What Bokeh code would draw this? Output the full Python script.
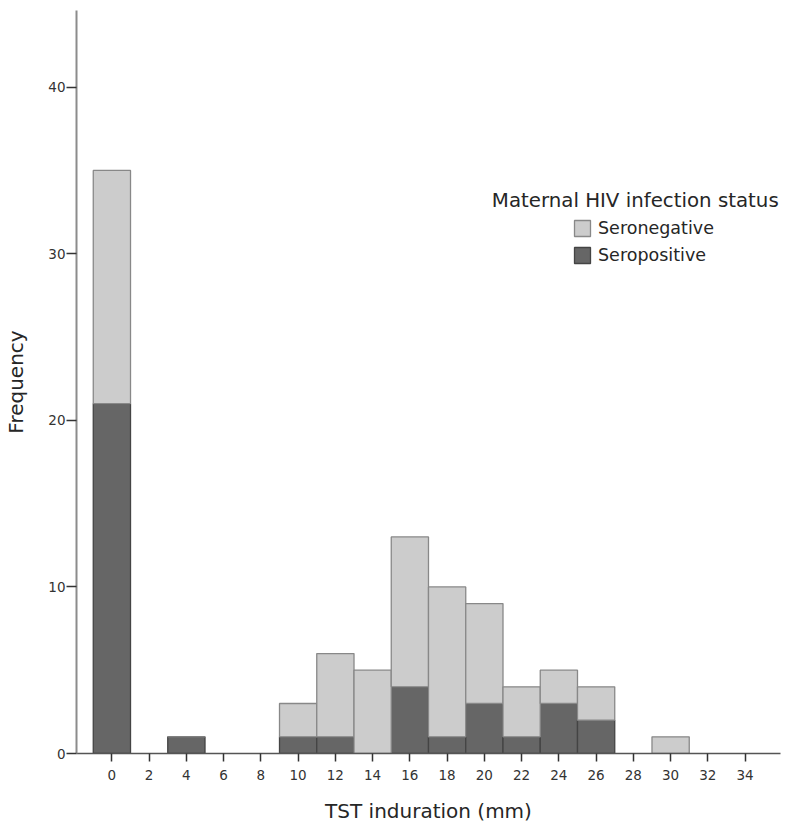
from bokeh.plotting import figure
from bokeh.models import Range1d, FixedTicker, Legend, LegendItem, Label, ColumnDataSource
from bokeh.embed import file_html
from bokeh.resources import INLINE

# TST induration bins (mm, bin centres, 2 mm wide)
bins = [0, 4, 10, 12, 14, 16, 18, 20, 22, 24, 26, 30]
# total children per bin and those with seropositive mothers
totals = [35, 1, 3, 6, 5, 13, 10, 9, 4, 5, 4, 1]
seropositive = [21, 1, 1, 1, 0, 4, 1, 3, 1, 3, 2, 0]
seronegative = [t - s for t, s in zip(totals, seropositive)]
x_ticks = list(range(0, 35, 2))
y_ticks = [0, 10, 20, 30, 40]

FONT = "DejaVu Sans"
LIGHT = "#cccccc"
DARK = "#666666"
TEXT = "#262626"

src = ColumnDataSource(dict(x=bins, pos=seropositive, neg=seronegative, tot=totals))

p = figure(width=804, height=825, output_backend="svg", toolbar_location=None,
           x_range=Range1d(-1.9, 35.9), y_range=Range1d(0, 44.6),
           min_border_left=76, min_border_right=24, min_border_top=10, min_border_bottom=71)
p.outline_line_color = None
p.grid.visible = False
p.background_fill_color = "white"
p.border_fill_color = "white"

# stacked bars: seropositive at the bottom, seronegative on top
pos_r = p.vbar(x="x", width=2, bottom=0, top="pos", source=src,
               fill_color=DARK, line_color="#444444", line_width=1.3)
neg_r = p.vbar(x="x", width=2, bottom="pos", top="tot", source=src,
               fill_color=LIGHT, line_color="#888888", line_width=1.3)

xa = p.xaxis[0]
xa.ticker = FixedTicker(ticks=x_ticks)
xa.axis_label = "TST induration (mm)"
xa.axis_label_text_font = FONT
xa.axis_label_text_font_size = "20px"
xa.axis_label_text_font_style = "normal"
xa.axis_label_text_color = TEXT
xa.axis_label_standoff = 16
xa.major_label_text_font = FONT
xa.major_label_text_font_size = "13.5px"
xa.major_label_text_color = "#333333"
xa.major_label_standoff = 8
xa.major_tick_in = 0
xa.major_tick_out = 8
xa.major_tick_line_color = "#333333"
xa.major_tick_line_width = 1.5
xa.minor_tick_line_color = None
xa.axis_line_color = "#555555"
xa.axis_line_width = 1.3

ya = p.yaxis[0]
ya.ticker = FixedTicker(ticks=y_ticks)
ya.axis_label = "Frequency"
ya.axis_label_text_font = FONT
ya.axis_label_text_font_size = "20px"
ya.axis_label_text_font_style = "normal"
ya.axis_label_text_color = TEXT
ya.axis_label_standoff = 17
ya.major_label_text_font = FONT
ya.major_label_text_font_size = "13.5px"
ya.major_label_text_color = "#333333"
ya.major_label_standoff = 1
ya.major_tick_in = 0
ya.major_tick_out = 10
ya.major_tick_line_color = "#333333"
ya.major_tick_line_width = 1.5
ya.minor_tick_line_color = None
ya.axis_line_color = "#8c8c8c"
ya.axis_line_width = 2

# legend heading, kept inside the plot frame
title = Label(x=20.4, y=33.2, text="Maternal HIV infection status",
              text_font=FONT, text_font_size="19.8px", text_color=TEXT,
              text_align="left", text_baseline="middle")
p.add_layout(title)

legend = Legend(items=[LegendItem(label="Seronegative", renderers=[neg_r]),
                       LegendItem(label="Seropositive", renderers=[pos_r])],
                location=(496, 488), orientation="vertical",
                label_text_font=FONT, label_text_font_size="17.5px", label_text_color=TEXT,
                glyph_width=20, glyph_height=20, spacing=7, padding=0, margin=0,
                label_standoff=6, label_height=20,
                border_line_color=None, background_fill_alpha=0)
p.add_layout(legend)

open("out.html", "w").write(file_html(p, INLINE))
